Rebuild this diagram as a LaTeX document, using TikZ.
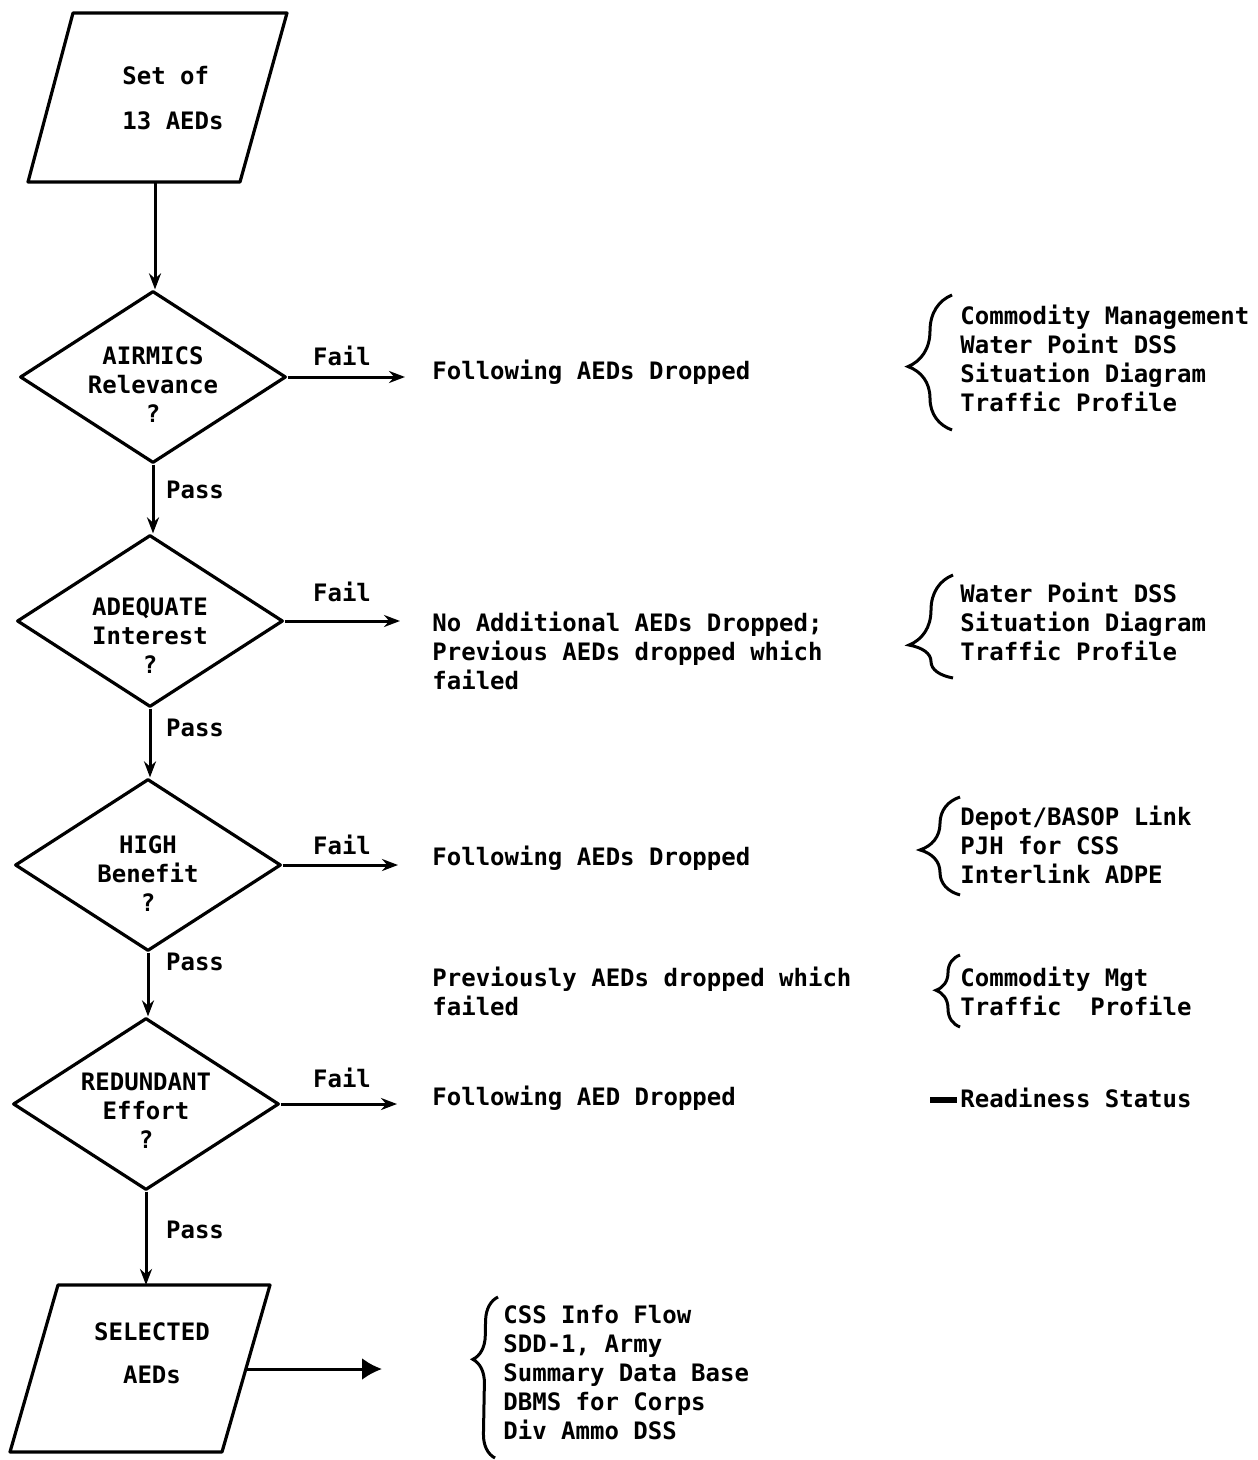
\documentclass[tikz,border=0pt]{standalone}
\usepackage{fontspec}
\setmainfont{DejaVu Sans Mono}
\usetikzlibrary{shapes.geometric,arrows.meta,decorations.pathreplacing}
\begin{document}
\begin{tikzpicture}[x=0.5pt,y=-0.5pt,
  font=\fontsize{12}{14.5}\selectfont\bfseries,
  shp/.style={draw, line width=1.6pt, line join=round},
  dia/.style={shp, diamond, minimum width=133pt, minimum height=86pt, inner sep=0pt},
  arr/.style={line width=1.5pt, -{Stealth[length=8pt,width=6pt]}},
  bigarr/.style={line width=1.5pt, -{Latex[length=10pt,width=11pt]}},
  txt/.style={inner sep=0pt, align=left, anchor=west},
  dtxt/.style={inner sep=0pt, align=center},
  brc/.style 2 args={decorate, line width=1.5pt, decoration={brace, amplitude=#1, aspect=#2}},
]
\useasboundingbox (0,0) rectangle (1257,1460);

% input parallelogram
\draw[shp] (73,13) -- (287,13) -- (240,182) -- (28,182) -- cycle;
\node[dtxt, align=left] (p1) at (173,98) {Set of\\[8pt]13 AEDs};
\coordinate (p1s) at (155,182);

\node[dia] (d1) at (153,377) {};
\node[dtxt] (d1t) at (153,385) {AIRMICS\\Relevance\\?};
\node[dia] (d2) at (150,621) {};
\node[dtxt] (d2t) at (150,636) {ADEQUATE\\Interest\\?};
\node[dia] (d3) at (148,865) {};
\node[dtxt] (d3t) at (148,874) {HIGH\\Benefit\\?};
\node[dia] (d4) at (146,1104) {};
\node[dtxt] (d4t) at (146,1111) {REDUNDANT\\Effort\\?};

% output parallelogram
\draw[shp] (58,1285) -- (270,1285) -- (222,1452) -- (10,1452) -- cycle;
\node[dtxt] (p2) at (152,1353) {SELECTED\\[7pt]AEDs};
\coordinate (p2n) at (146,1285);
\coordinate (p2e) at (247,1369);

% vertical connectors
\draw[arr] (p1s) -- (p1s |- d1.north);
\draw[arr] (d1.south) -- (d1.south |- d2.north);
\draw[arr] (d2.south) -- (d2.south |- d3.north);
\draw[arr] (d3.south) -- (d3.south |- d4.north);
\draw[arr] (d4.south) -- (p2n);

% fail connectors
\coordinate (f1) at (405,377);
\coordinate (f2) at (400,621);
\coordinate (f3) at (398,865);
\coordinate (f4) at (397,1104);
\coordinate (f5) at (382,1369);
\draw[arr] (d1.east) -- (f1);
\draw[arr] (d2.east) -- (f2);
\draw[arr] (d3.east) -- (f3);
\draw[arr] (d4.east) -- (f4);
\draw[bigarr] (p2e) -- (f5);

% labels
\node[dtxt] (fl1) at (342,356) {Fail};
\node[dtxt] (fl2) at (342,592) {Fail};
\node[dtxt] (fl3) at (342,845) {Fail};
\node[dtxt] (fl4) at (342,1078) {Fail};
\node[dtxt] (pl1) at (195,490) {Pass};
\node[dtxt] (pl2) at (195,728) {Pass};
\node[dtxt] (pl3) at (195,962) {Pass};
\node[dtxt] (pl4) at (195,1230) {Pass};

% middle column
\node[txt] (m1) at (432,372) {Following AEDs Dropped};
\node[txt] (m2) at (432,651) {No Additional AEDs Dropped;\\Previous AEDs dropped which\\failed};
\node[txt] (m3) at (432,858) {Following AEDs Dropped};
\node[txt] (m4) at (432,991) {Previously AEDs dropped which\\failed};
\node[txt] (m5) at (432,1098) {Following AED Dropped};

% right column lists
\node[txt] (r1) at (960,358) {Commodity Management\\Water Point DSS\\Situation Diagram\\Traffic Profile};
\node[txt] (r2) at (960,622) {Water Point DSS\\Situation Diagram\\Traffic Profile};
\node[txt] (r3) at (960,845) {Depot/BASOP Link\\PJH for CSS\\Interlink ADPE};
\node[txt] (r4) at (960,991) {Commodity Mgt\\Traffic\ \ Profile};
\node[txt] (r5) at (960,1098) {Readiness Status};
\node[txt] (r6) at (503,1373) {CSS Info Flow\\SDD-1, Army\\Summary Data Base\\DBMS for Corps\\Div Ammo DSS};

% braces
\draw[brc={22pt}{0.47}] (952,430) -- (952,295);
\draw[brc={22pt}{0.32}] (953,678) -- (953,575);
\draw[brc={20pt}{0.46}] (960,895) -- (960,797);
\draw[brc={12pt}{0.51}] (960,1027) -- (960,955);
\draw[line width=3pt] (930,1100) -- (957,1100);
\draw[brc={12pt}{0.61}] (495,1458) -- (498,1297);
\end{tikzpicture}
\end{document}
